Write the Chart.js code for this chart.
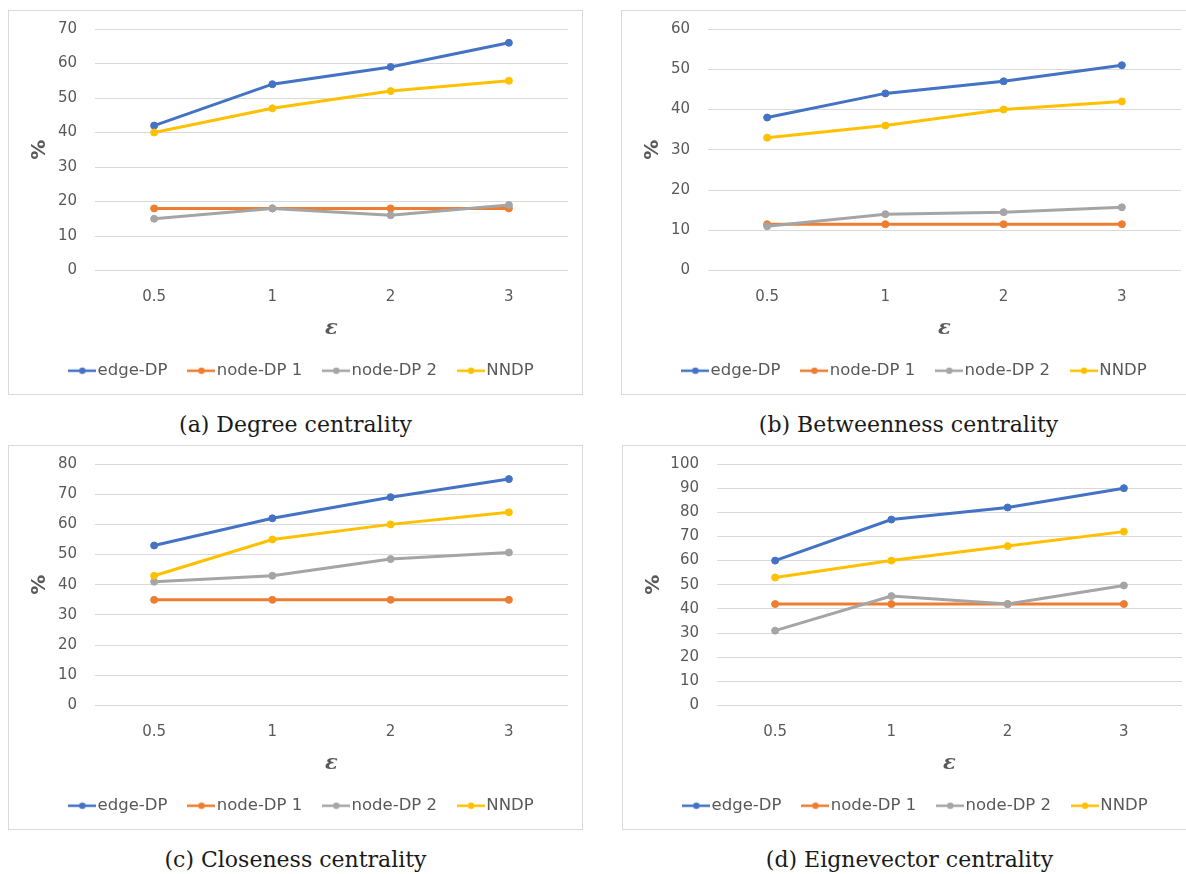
<!DOCTYPE html>
<html><head><meta charset="utf-8">
<script src="https://cdn.jsdelivr.net/npm/chart.js@4.4.0/dist/chart.umd.min.js"></script>
<style>
html,body{margin:0;padding:0;background:#fff;}
body{width:1186px;height:874px;overflow:hidden;position:relative;}
.box{position:absolute;width:575px;height:385px;border:1px solid #d9d9d9;box-sizing:border-box;background:#fff;overflow:hidden;}
.box canvas{position:absolute;left:0;top:0;}
.cap{position:absolute;width:575px;text-align:center;font-family:'DejaVu Serif',serif;font-size:22px;color:#1a1a1a;line-height:28px;}
</style></head><body>
<div class="box" style="left:8px;top:10px"><canvas id="cA" width="573" height="383"></canvas></div>
<div class="box" style="left:621px;top:10px"><canvas id="cB" width="573" height="383"></canvas></div>
<div class="box" style="left:8px;top:445px"><canvas id="cC" width="573" height="383"></canvas></div>
<div class="box" style="left:622px;top:445px"><canvas id="cD" width="573" height="383"></canvas></div>
<div class="cap" style="left:8px;top:411px">(a) Degree centrality</div>
<div class="cap" style="left:621px;top:411px">(b) Betweenness centrality</div>
<div class="cap" style="left:8px;top:846px">(c) Closeness centrality</div>
<div class="cap" style="left:622px;top:846px">(d) Eignevector centrality</div>
<script>
// ---- data ----
const epsilons = ['0.5', '1', '2', '3'];
const seriesNames = ['edge-DP', 'node-DP 1', 'node-DP 2', 'NNDP'];

const degreeEdgeDP  = [42, 54, 59, 66];
const degreeNodeDP1 = [18, 18, 18, 18];
const degreeNodeDP2 = [15, 18, 16, 19];
const degreeNNDP    = [40, 47, 52, 55];

const betweenEdgeDP  = [38, 44, 47, 51];
const betweenNodeDP1 = [11.5, 11.5, 11.5, 11.5];
const betweenNodeDP2 = [11, 14, 14.5, 15.7];
const betweenNNDP    = [33, 36, 40, 42];

const closeEdgeDP  = [53, 62, 69, 75];
const closeNodeDP1 = [35, 35, 35, 35];
const closeNodeDP2 = [41, 43, 48.5, 50.7];
const closeNNDP    = [43, 55, 60, 64];

const eigenEdgeDP  = [60, 77, 82, 90];
const eigenNodeDP1 = [42, 42, 42, 42];
const eigenNodeDP2 = [31, 45.3, 42, 49.7];
const eigenNNDP    = [53, 60, 66, 72];

const yMaxDegree = 70, yMaxBetween = 60, yMaxClose = 80, yMaxEigen = 100;
const yStep = 10;
const xTitle = 'ε';
const yTitle = '%';

// ---- styling ----
const COLORS = ['#4472C4', '#ED7D31', '#A5A5A5', '#FFC000'];
Chart.defaults.font.family = "'DejaVu Sans', sans-serif";
Chart.defaults.color = '#595959';

function markerImage(color) {
  const c = document.createElement('canvas');
  c.width = 28; c.height = 10;
  const g = c.getContext('2d');
  g.strokeStyle = color; g.lineWidth = 2.5;
  g.beginPath(); g.moveTo(0, 5); g.lineTo(28, 5); g.stroke();
  g.fillStyle = color;
  g.beginPath(); g.arc(14, 5, 3.2, 0, Math.PI * 2); g.fill();
  return c;
}

const legendShift = {
  id: 'legendShift',
  afterLayout(chart) {
    const l = chart.legend;
    if (l) { l.left += 16; l.right += 16; }
  }
};

function makeChart(id, series, yMax, yWidth) {
  const datasets = series.map((vals, i) => ({
    label: seriesNames[i],
    data: vals,
    borderColor: COLORS[i],
    backgroundColor: COLORS[i],
    pointBackgroundColor: COLORS[i],
    pointBorderColor: COLORS[i],
    borderWidth: 3,
    pointRadius: 3.5,
    pointBorderWidth: 1,
    tension: 0,
    order: series.length - i
  }));
  new Chart(document.getElementById(id), {
    type: 'line',
    data: { labels: epsilons, datasets },
    plugins: [legendShift],
    options: {
      responsive: false,
      animation: false,
      layout: { padding: { top: 18, right: 14, bottom: 5, left: 0 } },
      plugins: {
        tooltip: { enabled: false },
        legend: {
          position: 'bottom',
          align: 'center',
          labels: {
            usePointStyle: true,
            pointStyleWidth: 14,
            padding: 27,
            color: '#595959',
            font: { size: 16.5 },
            generateLabels(chart) {
              return chart.data.datasets.map((ds, i) => ({
                text: ds.label,
                pointStyle: markerImage(ds.borderColor),
                fillStyle: ds.borderColor,
                strokeStyle: ds.borderColor,
                lineWidth: 0,
                hidden: false,
                datasetIndex: i,
                fontColor: '#595959'
              }));
            }
          }
        }
      },
      scales: {
        x: {
          type: 'category',
          offset: true,
          grid: { display: false, drawTicks: false },
          border: { display: false },
          ticks: { color: '#595959', font: { size: 15 }, padding: 18, maxRotation: 0 },
          title: {
            display: true, text: xTitle, color: '#595959',
            font: { family: "'DejaVu Serif', serif", style: 'italic', weight: 'bold', size: 21, lineHeight: 0.7 },
            padding: { top: 0, bottom: 0 }
          },
          afterFit(scale) { scale.height = 65; }
        },
        y: {
          min: 0, max: yMax,
          grid: { color: '#d9d9d9', lineWidth: 1, drawTicks: false },
          border: { display: false },
          ticks: { stepSize: yStep, color: '#595959', font: { size: 15 }, padding: 18 },
          title: {
            display: true, text: yTitle, color: '#595959',
            font: { size: 20, weight: 'bold', lineHeight: 1 },
            padding: { top: 21, bottom: 0 }
          },
          afterFit(scale) { scale.width = yWidth; scale.paddingTop = 0; scale.paddingBottom = 0; }
        }
      }
    }
  });
}

makeChart('cA', [degreeEdgeDP, degreeNodeDP1, degreeNodeDP2, degreeNNDP], yMaxDegree, 86);
makeChart('cB', [betweenEdgeDP, betweenNodeDP1, betweenNodeDP2, betweenNNDP], yMaxBetween, 86);
makeChart('cC', [closeEdgeDP, closeNodeDP1, closeNodeDP2, closeNNDP], yMaxClose, 86);
makeChart('cD', [eigenEdgeDP, eigenNodeDP1, eigenNodeDP2, eigenNNDP], yMaxEigen, 94);
</script>
</body></html>
